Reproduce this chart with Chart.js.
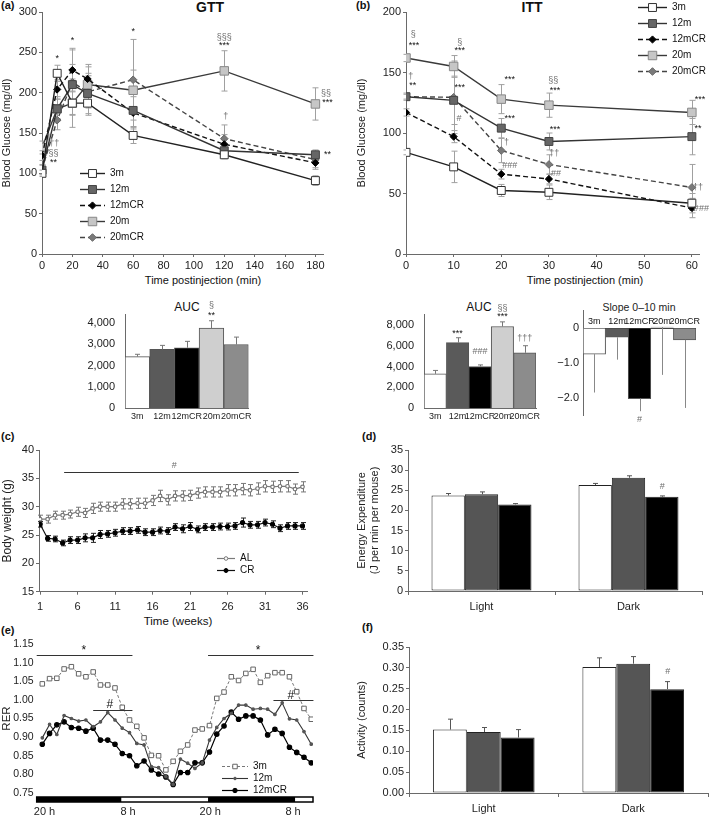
<!DOCTYPE html>
<html>
<head>
<meta charset="utf-8">
<title>GTT / ITT / body weight / energy</title>
<script src="https://cdn.jsdelivr.net/npm/chart.js@4.4.1/dist/chart.umd.min.js"></script>
<style>
  html, body { margin: 0; padding: 0; background: #fff; }
  body { position: relative; width: 709px; height: 816px; overflow: hidden; font-family: "Liberation Sans", Arial, sans-serif; color: #111; }
  .txt { position: absolute; white-space: nowrap; font-size: 11px; line-height: 1; font-weight: normal; }
  .pl { font-weight: bold; }
  .ttl { font-weight: bold; font-size: 14px; transform: translateX(-50%); }
  .ctr { transform: translateX(-50%); }
</style>
</head>
<body>
<div class="txt pl" style="left:1px;top:0px">(a)</div>
<div class="txt ttl" style="left:210px;top:0px">GTT</div>
<div class="txt pl" style="left:356px;top:0px">(b)</div>
<div class="txt ttl" style="left:532px;top:0px">ITT</div>
<div class="txt ctr" style="left:203px;top:275px">Time postinjection (min)</div>
<div class="txt ctr" style="left:585px;top:275px">Time postinjection (min)</div>
<div class="txt ctr" style="left:187px;top:301px;font-size:12px">AUC</div>
<div class="txt ctr" style="left:479px;top:301px;font-size:12px">AUC</div>
<div class="txt ctr" style="left:639px;top:302px;font-size:10.5px;color:#222">Slope 0–10 min</div>
<div class="txt pl" style="left:1px;top:431px">(c)</div>
<div class="txt pl" style="left:362px;top:431px">(d)</div>
<div class="txt ctr" style="left:178px;top:616px;font-size:11.5px">Time (weeks)</div>
<div class="txt pl" style="left:1px;top:625px">(e)</div>
<div class="txt pl" style="left:362px;top:622px">(f)</div>
<script>
// ---- data ----
const groups = ['3m', '12m', '12mCR', '20m', '20mCR'];

// (a) glucose tolerance test
const gttTimes = [0, 10, 20, 30, 60, 120, 180];
const gttTicks = [0, 20, 40, 60, 80, 100, 120, 140, 160, 180];
const gtt3m = [100, 224, 187, 187, 147, 123, 91];
const gtt12m = [104, 180, 210, 199, 178, 128, 123];
const gtt12mCR = [122, 204, 228, 217, 175, 136, 113];
const gtt20m = [132, 180, 187, 210, 203, 227, 186];
const gtt20mCR = [105, 166, 213, 201, 216, 143, 117];
const gtt3mErr = [4, 10, 15, 15, 10, 5, 6];
const gtt12mErr = [6, 15, 25, 25, 20, 8, 6];
const gtt12mCRErr = [6, 12, 27, 15, 20, 12, 8];
const gtt20mErr = [8, 12, 30, 25, 25, 25, 20];
const gtt20mCRErr = [6, 12, 40, 20, 50, 17, 10];
const gttAuc = [2420, 2760, 2840, 3760, 2990];
const gttAucErr = [110, 190, 300, 350, 350];
const gttAucTicks = [0, 1000, 2000, 3000, 4000];

// (b) insulin tolerance test
const ittTimes = [0, 10, 20, 30, 60];
const ittTicks = [0, 10, 20, 30, 40, 50, 60];
const itt3m = [84, 72, 52.5, 51, 42];
const itt12m = [130, 127, 104, 93, 97];
const itt12mCR = [117, 97, 66, 62, 38];
const itt20m = [162, 155, 128, 123, 117];
const itt20mCR = [130, 129.5, 85.5, 74, 55];
const itt3mErr = [2, 13, 5, 6, 8];
const itt12mErr = [2, 20, 8, 7, 15];
const itt12mCRErr = [3, 5, 4, 4, 8];
const itt20mErr = [3, 9, 12, 10, 10];
const itt20mCRErr = [3, 30, 10, 8, 19];
const ittAuc = [3290, 6300, 4000, 7850, 5320];
const ittAucErr = [330, 470, 150, 450, 680];
const ittAucTicks = [0, 2000, 4000, 6000, 8000];
const slope = [-0.745, -0.264, -2.02, 0.03, -0.336];
const slopeErr = [1.1, 0.64, 0.36, 1.37, 1.95];
const slopeTicks = [-2, -1, 0];

// (c) body weight
const weeks = Array.from({ length: 36 }, (_, i) => i + 1);
const weekTicks = [1, 6, 11, 16, 21, 26, 31, 36];
const bwAL = [27.8, 27.8, 28.5, 28.5, 28.7, 29.1, 28.9, 29.7, 30.0, 30.0, 30.0, 30.5,
  30.5, 30.6, 30.6, 31.1, 31.9, 31.2, 31.9, 31.9, 32.0, 32.4, 32.6, 32.6,
  32.6, 32.9, 32.9, 33.1, 32.9, 33.2, 33.6, 33.5, 33.6, 33.6, 33.1, 33.5];
const bwCR = [26.9, 24.4, 24.3, 23.6, 24.1, 24.1, 24.5, 24.5, 25.1, 25.2, 25.4, 25.7,
  25.7, 25.9, 25.5, 25.5, 25.8, 25.7, 26.4, 26.1, 26.5, 26.0, 26.4, 26.4,
  26.5, 26.5, 26.6, 27.2, 26.8, 26.8, 27.2, 26.9, 26.2, 26.6, 26.6, 26.6];
const bwALErr = [0.7, 0.7, 0.7, 0.7, 0.7, 0.8, 0.8, 0.9, 0.8, 0.8, 0.8, 0.9,
  0.9, 0.9, 0.9, 0.9, 1.0, 0.9, 0.9, 0.9, 0.9, 0.9, 0.9, 0.9,
  0.9, 1.0, 1.0, 1.0, 1.0, 1.0, 1.0, 1.0, 1.0, 1.0, 0.9, 0.9];
const bwCRErr = [0.5, 0.5, 0.5, 0.5, 0.6, 0.6, 0.7, 0.8, 0.7, 0.6, 0.6, 0.6,
  0.6, 0.6, 0.6, 0.6, 0.6, 0.6, 0.6, 0.7, 0.7, 0.6, 0.6, 0.6,
  0.6, 0.6, 0.6, 0.8, 0.6, 0.6, 0.6, 0.6, 0.6, 0.6, 0.6, 0.6];

// (d) energy expenditure, (f) activity
const phases = ['Light', 'Dark'];
const ee3m = [23.7, 26.3], ee12m = [24.0, 28.1], ee12mCR = [21.5, 23.4];
const ee3mErr = [0.5, 0.4], ee12mErr = [0.6, 0.5], ee12mCRErr = [0.2, 0.2];
const act3m = [0.152, 0.302], act12m = [0.146, 0.310], act12mCR = [0.133, 0.249];
const act3mErr = [0.025, 0.022], act12mErr = [0.011, 0.017], act12mCRErr = [0.019, 0.018];

// (e) RER, hourly from 20 h
const rer3m = [1.043, 1.057, 1.058, 1.083, 1.089, 1.070, 1.062, 1.075, 1.040, 1.040,
  1.032, 0.980, 0.946, 0.929, 0.898, 0.851, 0.850, 0.812, 0.835, 0.862,
  0.879, 0.919, 0.922, 0.931, 1.004, 1.021, 1.062, 1.052, 1.071, 1.082,
  1.047, 1.065, 1.073, 1.073, 1.062, 1.022, 0.977, 0.948];
const rer12m = [0.898, 0.934, 0.907, 0.958, 0.950, 0.943, 0.946, 0.928, 0.941, 0.966,
  0.946, 0.924, 0.912, 0.883, 0.879, 0.821, 0.818, 0.794, 0.773, 0.841,
  0.830, 0.816, 0.831, 0.892, 0.926, 0.950, 0.964, 0.986, 0.986, 0.975,
  0.977, 0.975, 0.961, 0.992, 0.949, 0.946, 0.915, 0.881];
const rer12mCR = [0.881, 0.910, 0.933, 0.941, 0.926, 0.924, 0.916, 0.924, 0.892, 0.892,
  0.881, 0.856, 0.850, 0.823, 0.836, 0.812, 0.801, 0.793, 0.773, 0.805,
  0.805, 0.831, 0.831, 0.860, 0.908, 0.930, 0.967, 0.948, 0.957, 0.957,
  0.946, 0.906, 0.921, 0.910, 0.873, 0.859, 0.846, 0.831];
const rerSlots = rer3m.map((_, i) => i);
const rerTickPos = [0.3, 11.8, 23.1, 34.5];
const rerTickLabels = ['20 h', '8 h', '20 h', '8 h'];
const lightDarkEdges = [-0.77, 10.9, 22.8, 34.8, 37.24];

// significance marks [x, y, text]
const gttNotes = [[10, 242, '*'], [20, 265, '*'], [60, 276, '*'], [120, 268, '§§§'], [120, 259, '***'],
  [187, 199, '§§'], [188, 188, '***'], [188, 123, '**'], [121, 170, '†'],
  [4.5, 145, '†'], [8, 137, '††'], [7.5, 125, '§§'], [7.5, 114, '**']];
const ittNotes = [[1.5, 181, '§'], [1.7, 172, '***'], [1.0, 146.5, '†'], [1.4, 139, '**'],
  [11.3, 175, '§'], [11.3, 168, '***'], [11.3, 138, '***'], [11.1, 112, '#'],
  [21.8, 144, '***'], [21.8, 111.6, '***'], [21.1, 92, '†'], [21.8, 73.5, '###'],
  [30.9, 143, '§§'], [31.3, 135.5, '***'], [31.3, 102.5, '***'], [31.1, 83, '††'], [31.5, 66.7, '##'],
  [61.7, 128, '***'], [61.3, 104, '**'], [61.3, 55, '††'], [62, 38, '###']];
const gttAucNotes = [[3, 4810, '§'], [3, 4350, '**']];
const ittAucNotes = [[1, 7200, '***'], [2, 5450, '###'], [3, 9600, '§§'], [3, 8780, '***'], [4, 6650, '†††']];
const slopeNotes = [[2, -2.63, '#']];
const bwNotes = [[18.9, 37.3, '#']];
const bwLines = [[4.2, 35.5, 36.2]];
const eeNotes = [[1.23, 25.9, '#']];
const actNotes = [[1.23, 0.292, '#']];
const rerNotes = [[5.7, 1.131, '*', '#111'], [29.7, 1.131, '*', '#111'], [9.3, 0.987, '#', '#111'], [34.2, 1.011, '#', '#111']];
const rerLines = [[-0.77, 12.4, 1.12], [22.8, 37.3, 1.12], [7.0, 12.4, 0.973], [31.8, 37.3, 1.0]];

// ---- setup ----
Chart.defaults.font.family = '"Liberation Sans", Arial, sans-serif';
Chart.defaults.font.size = 11;
Chart.defaults.color = '#222';
Chart.defaults.animation = false;
Chart.defaults.plugins.legend.display = false;
Chart.defaults.plugins.tooltip.enabled = false;

const AXIS = '#6a6a6a';
const FONT = '"Liberation Sans", Arial, sans-serif';
const fixW = w => s => { s.width = w; };
const fixH = h => s => { s.height = h; };
const tickAt = list => s => { s.ticks = list.map(v => ({ value: v })); };
const tickGrid = { display: true, drawOnChartArea: false, tickLength: 3, color: AXIS };
const noGrid = { display: false, drawTicks: false };

function makeCanvas(left, top, w, h) {
  const c = document.createElement('canvas');
  c.width = w; c.height = h;
  c.style.cssText = `position:absolute;left:${left}px;top:${top}px;width:${w}px;height:${h}px`;
  document.body.appendChild(c);
  return c;
}

// error bars, drawn from dataset.errUp / dataset.errDown
function drawErr(chart, behind) {
  const ctx = chart.ctx;
  chart.data.datasets.forEach((ds, i) => {
    if (!ds.errUp && !ds.errDown) return;
    if (!!ds.errBehind !== behind) return;
    const meta = chart.getDatasetMeta(i);
    const ys = chart.scales[meta.yAxisID];
    const cap = ds.errCap == null ? 3 : ds.errCap;
    ctx.save();
    ctx.strokeStyle = ds.errColor || '#555';
    ctx.lineWidth = 1;
    meta.data.forEach((el, j) => {
      const v = ds.data[j];
      const x = Math.round(el.x) + 0.5;
      const up = ds.errUp ? ds.errUp[j] : 0;
      const dn = ds.errDown ? ds.errDown[j] : 0;
      const yT = ys.getPixelForValue(v + up), yB = ys.getPixelForValue(v - dn);
      ctx.beginPath();
      ctx.moveTo(x, yT); ctx.lineTo(x, yB);
      if (cap && up) { ctx.moveTo(x - cap, yT); ctx.lineTo(x + cap, yT); }
      if (cap && dn) { ctx.moveTo(x - cap, yB); ctx.lineTo(x + cap, yB); }
      ctx.stroke();
    });
    ctx.restore();
  });
}
Chart.register({
  id: 'errorBars',
  beforeDatasetsDraw(chart) { drawErr(chart, true); },
  afterDatasetsDraw(chart) { drawErr(chart, false); }
});

function notes(texts, lines, size) {
  return {
    id: 'notes',
    afterDatasetsDraw(chart) {
      const { ctx, scales: { x, y } } = chart;
      ctx.save();
      ctx.strokeStyle = '#333'; ctx.lineWidth = 1.2;
      (lines || []).forEach(([x1, x2, yv]) => {
        const py = Math.round(y.getPixelForValue(yv)) + 0.5;
        ctx.beginPath(); ctx.moveTo(x.getPixelForValue(x1), py); ctx.lineTo(x.getPixelForValue(x2), py); ctx.stroke();
      });
      ctx.textAlign = 'center'; ctx.textBaseline = 'middle';
      ctx.font = `${size || 9}px ${FONT}`;
      texts.forEach(([xv, yv, t, col]) => {
        ctx.fillStyle = col || (/[§†#]/.test(t) ? '#6e6e6e' : '#111');
        ctx.fillText(t, x.getPixelForValue(xv), y.getPixelForValue(yv));
      });
      ctx.restore();
    }
  };
}

function marker(ctx, ds, x, y) {
  const r = ds.pointRadius, st = ds.pointStyle;
  ctx.fillStyle = ds.pointBackgroundColor; ctx.strokeStyle = ds.pointBorderColor; ctx.lineWidth = 1;
  ctx.beginPath();
  if (st === 'rect') { const h = r * Math.SQRT1_2; ctx.rect(x - h, y - h, 2 * h, 2 * h); }
  else if (st === 'rectRot') { ctx.moveTo(x, y - r); ctx.lineTo(x + r, y); ctx.lineTo(x, y + r); ctx.lineTo(x - r, y); ctx.closePath(); }
  else ctx.arc(x, y, r, 0, Math.PI * 2);
  ctx.fill(); ctx.stroke();
}

function key(x0, y0, rowH, lineLen, size) {
  return {
    id: 'key',
    afterDraw(chart) {
      const ctx = chart.ctx;
      ctx.save();
      ctx.font = `${size || 10}px ${FONT}`;
      ctx.textBaseline = 'middle';
      chart.data.datasets.forEach((ds, i) => {
        const y = Math.round(y0 + i * rowH) + 0.5;
        ctx.strokeStyle = ds.borderColor; ctx.lineWidth = ds.borderWidth || 1;
        ctx.setLineDash(ds.borderDash || []);
        ctx.beginPath(); ctx.moveTo(x0, y); ctx.lineTo(x0 + lineLen, y); ctx.stroke();
        ctx.setLineDash([]);
        marker(ctx, ds, x0 + lineLen / 2, y);
        ctx.fillStyle = '#111';
        ctx.fillText(ds.label, x0 + lineLen + 5, y);
      });
      ctx.restore();
    }
  };
}

function dayNight(edges) {
  return {
    id: 'dayNight',
    afterDraw(chart) {
      const { ctx, chartArea, scales: { x } } = chart;
      const top = Math.round(chartArea.bottom) + 4, h = 5;
      ctx.save();
      for (let i = 0; i < edges.length - 1; i++) {
        const a = x.getPixelForValue(edges[i]), b = x.getPixelForValue(edges[i + 1]);
        ctx.fillStyle = i % 2 === 0 ? '#000' : '#fff';
        ctx.fillRect(a, top, b - a, h);
      }
      const l = x.getPixelForValue(edges[0]), r = x.getPixelForValue(edges[edges.length - 1]);
      ctx.strokeStyle = '#000'; ctx.lineWidth = 1.5;
      ctx.strokeRect(l, top, r - l, h);
      ctx.restore();
    }
  };
}

const lineStyles = [
  { borderColor: '#222', pointStyle: 'rect', pointRadius: 5.6, pointBackgroundColor: '#fff', pointBorderColor: '#333' },
  { borderColor: '#333', pointStyle: 'rect', pointRadius: 5.6, pointBackgroundColor: '#666', pointBorderColor: '#444' },
  { borderColor: '#111', borderDash: [5, 3], pointStyle: 'rectRot', pointRadius: 3.6, pointBackgroundColor: '#000', pointBorderColor: '#000' },
  { borderColor: '#3a3a3a', pointStyle: 'rect', pointRadius: 6, pointBackgroundColor: '#c6c6c6', pointBorderColor: '#888' },
  { borderColor: '#444', borderDash: [5, 3], pointStyle: 'rectRot', pointRadius: 3.8, pointBackgroundColor: '#7a7a7a', pointBorderColor: '#666' }
];
const aucFill = ['#fff', '#5a5a5a', '#000', '#cfcfcf', '#8c8c8c'];

function lineSets(series, errs) {
  return series.map((d, i) => Object.assign({
    label: groups[i], data: d, errUp: errs[i], errDown: errs[i], errBehind: true, errColor: '#a0a0a0', errCap: 3,
    borderWidth: 1.4, pointBorderWidth: 1, tension: 0
  }, lineStyles[i]));
}

function curveChart(canvas, times, series, errs, o) {
  return new Chart(canvas, {
    type: 'line',
    data: { labels: times, datasets: lineSets(series, errs) },
    options: {
      responsive: false,
      layout: { padding: { top: 12, right: o.padRight, left: 0, bottom: 0 } },
      scales: {
        x: { type: 'linear', min: 0, max: o.xMax, afterBuildTicks: tickAt(o.xTicks),
          ticks: { autoSkip: false, padding: 2, color: '#222' }, grid: tickGrid, border: { color: AXIS }, afterFit: fixH(36) },
        y: { min: 0, max: o.yMax, ticks: { stepSize: 50, autoSkip: false, padding: 2, color: '#222' }, grid: tickGrid, border: { color: AXIS },
          title: { display: true, text: 'Blood Glucose (mg/dl)', padding: 0, font: { size: 11 } }, afterFit: fixW(o.yW) }
      }
    },
    plugins: [notes(o.notes, [], 9), key(o.keyX, o.keyY, 16, o.keyLen, 10)]
  });
}

function aucChart(canvas, values, errs, o) {
  return new Chart(canvas, {
    type: 'bar',
    data: { labels: groups, datasets: [{ data: values, errUp: errs, errColor: '#777', errCap: 2.5,
      backgroundColor: aucFill, borderColor: '#555', borderWidth: 1, categoryPercentage: 1, barPercentage: 1 }] },
    options: {
      responsive: false,
      layout: { padding: { top: o.padTop, right: o.padRight, left: 0, bottom: 0 } },
      scales: {
        x: { grid: noGrid, border: { color: AXIS }, ticks: { autoSkip: false, maxRotation: 0, padding: 3, font: { size: 9 }, color: '#222' }, afterFit: fixH(18) },
        y: { min: 0, max: o.yMax, afterBuildTicks: tickAt(o.ticks),
          ticks: { autoSkip: false, padding: 10, color: '#222', callback: v => String(v).replace(/\B(?=(\d{3})+$)/g, ',') },
          grid: noGrid, border: { color: AXIS }, afterFit: fixW(o.yW) }
      }
    },
    plugins: [notes(o.notes, [], 9)]
  });
}

function phaseChart(canvas, sets, o) {
  const fills = ['#fff', '#555', '#000'];
  return new Chart(canvas, {
    type: 'bar',
    data: { labels: phases, datasets: sets.map((s, i) => ({ label: groups[i], data: s[0], errUp: s[1], errColor: '#555', errCap: 2.5,
      backgroundColor: fills[i], borderColor: '#222', borderWidth: 1, borderSkipped: false, categoryPercentage: 0.68, barPercentage: 1 })) },
    options: {
      responsive: false,
      layout: { padding: { top: o.padTop, right: o.padRight, left: 0, bottom: 0 } },
      scales: {
        x: { grid: { display: true, drawOnChartArea: false, tickLength: 4, color: AXIS, offset: true }, border: { color: AXIS },
          ticks: { padding: 5, color: '#222' }, afterFit: fixH(o.xH) },
        y: { min: 0, max: o.yMax, ticks: { stepSize: o.step, autoSkip: false, padding: 2, color: '#222', callback: o.fmt }, grid: tickGrid, border: { color: AXIS },
          title: { display: true, text: o.title, padding: 0, font: { size: 11 } }, afterFit: fixW(o.yW) }
      }
    },
    plugins: [notes(o.notes, [], 9)]
  });
}

// (a)
curveChart(makeCanvas(0, 0, 340, 290), gttTimes, [gtt3m, gtt12m, gtt12mCR, gtt20m, gtt20mCR],
  [gtt3mErr, gtt12mErr, gtt12mCRErr, gtt20mErr, gtt20mCRErr],
  { xMax: 185, xTicks: gttTicks, yMax: 300, yW: 42, padRight: 17, notes: gttNotes, keyX: 80, keyY: 173, keyLen: 25 });
aucChart(makeCanvas(60, 298, 200, 128), gttAuc, gttAucErr, { yMax: 4400, ticks: gttAucTicks, yW: 65, padTop: 14, padRight: 11.5, notes: gttAucNotes });

// (b)
curveChart(makeCanvas(355, 0, 354, 290), ittTimes, [itt3m, itt12m, itt12mCR, itt20m, itt20mCR],
  [itt3mErr, itt12mErr, itt12mCRErr, itt20mErr, itt20mCRErr],
  { xMax: 61.5, xTicks: ittTicks, yMax: 200, yW: 51, padRight: 10, notes: ittNotes, keyX: 283, keyY: 7, keyLen: 29 });
aucChart(makeCanvas(360, 298, 185, 128), ittAuc, ittAucErr, { yMax: 9000, ticks: ittAucTicks, yW: 64, padTop: 12.6, padRight: 9, notes: ittAucNotes });

new Chart(makeCanvas(540, 298, 169, 128), {
  type: 'bar',
  data: { labels: groups, datasets: [{ data: slope, errDown: slopeErr, errColor: '#888', errCap: 0,
    backgroundColor: aucFill, borderColor: '#555', borderWidth: 1, categoryPercentage: 1, barPercentage: 1 }] },
  options: {
    responsive: false,
    layout: { padding: { top: 12.6, right: 13, left: 0, bottom: 5.2 } },
    scales: {
      x: { display: false },
      y: { min: -2.5, max: 0.5, afterBuildTicks: tickAt(slopeTicks),
        ticks: { autoSkip: false, padding: 4, color: '#222', callback: v => v === 0 ? '0' : '−' + Math.abs(v).toFixed(1) },
        grid: { drawTicks: false, color: c => (c.tick && c.tick.value === 0 ? '#444' : 'rgba(0,0,0,0)') },
        border: { color: AXIS }, afterFit: fixW(43) }
    }
  },
  plugins: [notes(groups.map((g, i) => [i, 0.2, g, '#111']).concat(slopeNotes), [], 9)]
});

// (c)
new Chart(makeCanvas(0, 430, 340, 200), {
  type: 'line',
  data: { labels: weeks, datasets: [
    { label: 'AL', data: bwAL, errUp: bwALErr, errDown: bwALErr, errBehind: true, errColor: '#777', errCap: 2.5,
      borderColor: '#7a7a7a', borderWidth: 1.2, pointStyle: 'circle', pointRadius: 1.8, pointBackgroundColor: '#fff', pointBorderColor: '#777' },
    { label: 'CR', data: bwCR, errUp: bwCRErr, errDown: bwCRErr, errBehind: true, errColor: '#222', errCap: 2.5,
      borderColor: '#111', borderWidth: 1.2, pointStyle: 'circle', pointRadius: 2, pointBackgroundColor: '#000', pointBorderColor: '#000' }
  ] },
  options: {
    responsive: false,
    layout: { padding: { top: 20, right: 33, left: 0, bottom: 0 } },
    scales: {
      x: { type: 'linear', min: 0.85, max: 36.6, afterBuildTicks: tickAt(weekTicks),
        ticks: { autoSkip: false, padding: 6, color: '#222' }, grid: tickGrid, border: { color: AXIS }, afterFit: fixH(38.3) },
      y: { min: 15, max: 40, ticks: { stepSize: 5, padding: 2, color: '#222' }, grid: tickGrid, border: { color: AXIS },
        title: { display: true, text: 'Body weight (g)', padding: 0, font: { size: 12 } }, afterFit: fixW(39) }
    }
  },
  plugins: [notes(bwNotes, bwLines, 9), key(217, 128, 12, 18, 10)]
});

// (d)
phaseChart(makeCanvas(355, 430, 354, 190), [[ee3m, ee3mErr], [ee12m, ee12mErr], [ee12mCR, ee12mCRErr]],
  { yMax: 35, step: 5, yW: 53, padTop: 20, padRight: 7, xH: 29, title: ['Energy Expenditure', '(J per min per mouse)'], notes: eeNotes });

// (e)
new Chart(makeCanvas(0, 630, 330, 186), {
  type: 'line',
  data: { labels: rerSlots, datasets: [
    { label: '3m', data: rer3m, borderColor: '#777', borderWidth: 1, borderDash: [3, 2], pointStyle: 'rect', pointRadius: 3.2,
      pointBackgroundColor: '#fff', pointBorderColor: '#666' },
    { label: '12m', data: rer12m, borderColor: '#333', borderWidth: 1.1, pointStyle: 'circle', pointRadius: 1.3,
      pointBackgroundColor: '#555', pointBorderColor: '#555' },
    { label: '12mCR', data: rer12mCR, borderColor: '#000', borderWidth: 1.2, pointStyle: 'circle', pointRadius: 2.2,
      pointBackgroundColor: '#000', pointBorderColor: '#000' }
  ] },
  options: {
    responsive: false,
    layout: { padding: { top: 14, right: 17, left: 0, bottom: 0 } },
    scales: {
      x: { type: 'linear', min: -0.77, max: 37.24, afterBuildTicks: tickAt(rerTickPos),
        ticks: { autoSkip: false, callback: (v, i) => rerTickLabels[i], padding: 12, color: '#222' }, grid: noGrid, border: { display: false }, afterFit: fixH(23) },
      y: { min: 0.75, max: 1.15, ticks: { stepSize: 0.05, autoSkip: false, padding: 3, color: '#222', font: { size: 10.5 }, callback: v => v.toFixed(2) },
        grid: noGrid, border: { display: false },
        title: { display: true, text: 'RER', padding: 0, font: { size: 11.5 } }, afterFit: fixW(36.7) }
    }
  },
  plugins: [notes(rerNotes, rerLines, 12), key(222, 136, 12, 26, 10), dayNight(lightDarkEdges)]
});

// (f)
phaseChart(makeCanvas(355, 622, 354, 194), [[act3m, act3mErr], [act12m, act12mErr], [act12mCR, act12mCRErr]],
  { yMax: 0.35, step: 0.05, yW: 54, padTop: 25, padRight: 1, xH: 23, title: 'Activity (counts)', notes: actNotes, fmt: v => v.toFixed(2) });
</script>
</body>
</html>
